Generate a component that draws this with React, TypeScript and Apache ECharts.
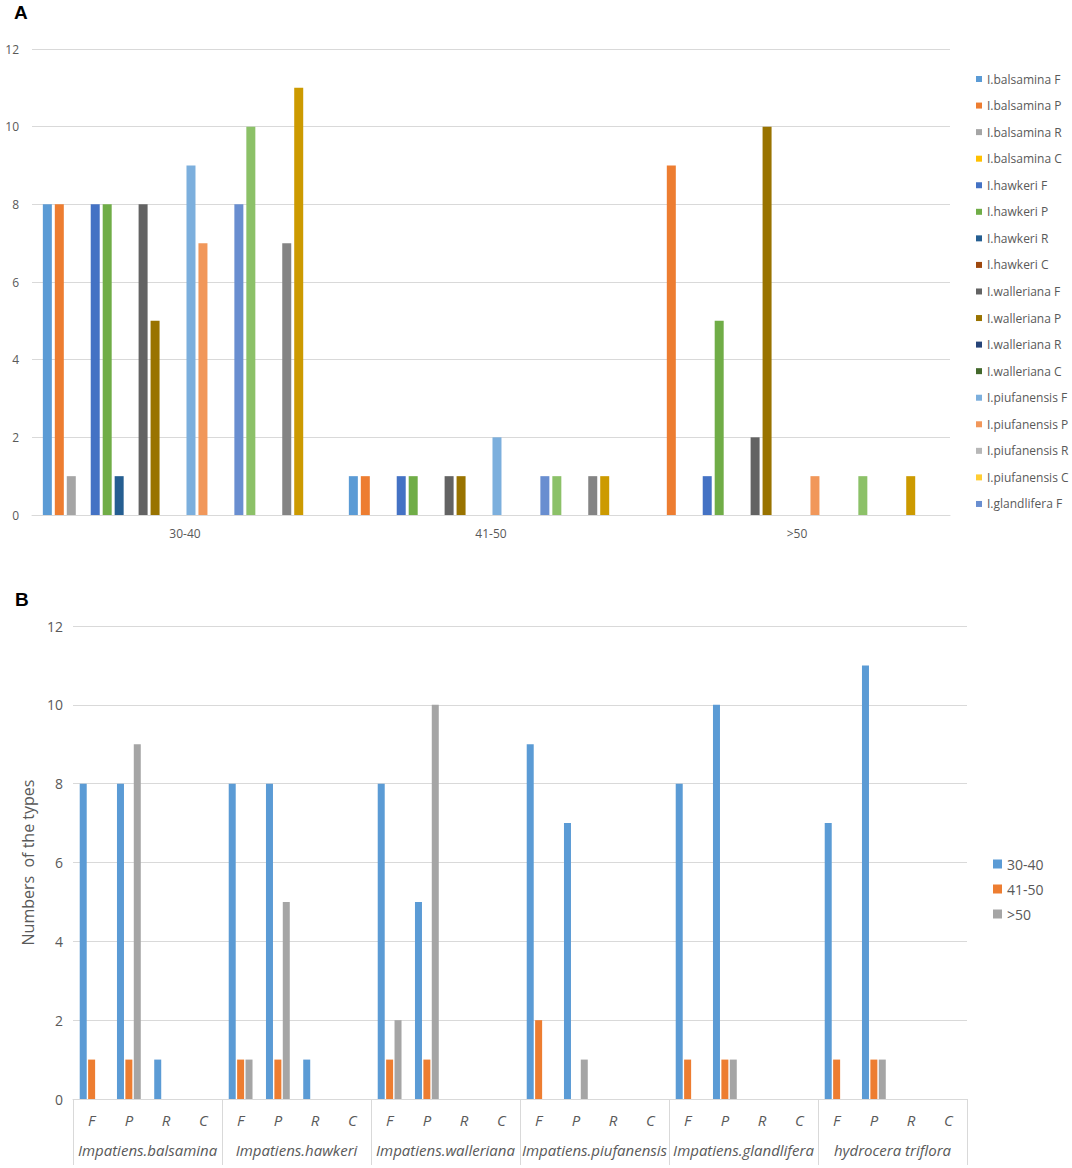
import React, { useEffect, useRef } from "react";
import * as echarts from "echarts";

// ---------- data ----------
const ageGroups = ["30-40", "41-50", ">50"];
const typeCodes = ["F", "P", "R", "C"];
const speciesFull = [
  "Impatiens.balsamina",
  "Impatiens.hawkeri",
  "Impatiens.walleriana",
  "Impatiens.piufanensis",
  "Impatiens.glandlifera",
  "hydrocera triflora",
];
const speciesShort = [
  "I.balsamina",
  "I.hawkeri",
  "I.walleriana",
  "I.piufanensis",
  "I.glandlifera",
  "H.triflora",
];
// counts per species x type (F,P,R,C for each species in order)
const counts3040 = [8, 8, 1, 0, 8, 8, 1, 0, 8, 5, 0, 0, 9, 7, 0, 0, 8, 10, 0, 0, 7, 11, 0, 0];
const counts4150 = [1, 1, 0, 0, 1, 1, 0, 0, 1, 1, 0, 0, 2, 0, 0, 0, 1, 1, 0, 0, 1, 1, 0, 0];
const countsOver50 = [0, 9, 0, 0, 1, 5, 0, 0, 2, 10, 0, 0, 0, 1, 0, 0, 0, 1, 0, 0, 0, 1, 0, 0];
const legendShownA = 17;

const paletteA = [
  "#5B9BD5", "#ED7D31", "#A5A5A5", "#FFC000", "#4472C4", "#70AD47",
  "#255E91", "#9E480E", "#636363", "#997300", "#264478", "#43682B",
  "#7CAFDD", "#F1975A", "#B7B7B7", "#FFCD33", "#698ED0", "#8CC168",
  "#327DC2", "#D26012", "#848484", "#CC9A00", "#3C64AE", "#61973A",
];
const paletteB = ["#5B9BD5", "#ED7D31", "#A5A5A5"];

const FONT = "'Open Sans', Lato, sans-serif";
const TXT = "#595959";
const GRID = "#D9D9D9";

export default function App() {
  const ref = useRef<HTMLDivElement>(null);

  useEffect(() => {
    if (!ref.current) return;
    const chart = echarts.init(ref.current, undefined, { renderer: "svg" });

    const namesA: string[] = [];
    speciesShort.forEach((s) => typeCodes.forEach((t) => namesA.push(`${s} ${t}`)));
    const byAge = [counts3040, counts4150, countsOver50];

    const seriesA = namesA.map((name, i) => ({
      type: "bar",
      name,
      xAxisIndex: 0,
      yAxisIndex: 0,
      data: byAge.map((arr) => arr[i]),
      barWidth: 9,
      barGap: "33%",
      itemStyle: { color: paletteA[i] },
    }));

    const catsB: string[] = [];
    speciesFull.forEach(() => typeCodes.forEach((t) => catsB.push(t)));

    const seriesB = ageGroups.map((g, k) => ({
      type: "bar",
      name: g,
      xAxisIndex: 1,
      yAxisIndex: 1,
      data: byAge[k],
      barWidth: 7,
      barGap: "20%",
      itemStyle: { color: paletteB[k] },
    }));

    const option: any = {
      animation: false,
      textStyle: { fontFamily: FONT },
      graphic: [
        {
          type: "text",
          left: 14,
          top: 3,
          style: { text: "A", font: "bold 19px 'Liberation Sans', Arial, sans-serif", fill: "#000" },
        },
        {
          type: "text",
          left: 15,
          top: 590,
          style: { text: "B", font: "bold 19px 'Liberation Sans', Arial, sans-serif", fill: "#000" },
        },
      ],
      legend: [
        {
          data: namesA.slice(0, legendShownA),
          orient: "vertical",
          left: 976,
          top: 72,
          padding: 0,
          itemWidth: 6,
          itemHeight: 6,
          itemGap: 12.56,
          icon: "rect",
          selectedMode: false,
          textStyle: { color: TXT, fontSize: 12, lineHeight: 14, fontFamily: FONT },
        },
        {
          data: ageGroups,
          orient: "vertical",
          left: 993,
          top: 855.5,
          padding: 0,
          itemWidth: 9,
          itemHeight: 9,
          itemGap: 8,
          icon: "rect",
          selectedMode: false,
          textStyle: { color: TXT, fontSize: 14, lineHeight: 17, fontFamily: FONT },
        },
      ],
      grid: [
        { left: 32, right: 122, top: 49, height: 466, containLabel: false },
        { left: 73, right: 105, top: 626, height: 473, containLabel: false },
      ],
      xAxis: [
        {
          type: "category",
          gridIndex: 0,
          data: ageGroups,
          axisLine: { show: true, lineStyle: { color: GRID } },
          axisTick: { show: false },
          axisLabel: { color: TXT, fontSize: 12, margin: 12, fontFamily: FONT },
        },
        {
          type: "category",
          gridIndex: 1,
          data: catsB,
          axisLine: { show: true, lineStyle: { color: GRID } },
          axisTick: { show: false },
          axisLabel: {
            color: TXT,
            fontSize: 15,
            fontStyle: "italic",
            margin: 13,
            interval: 0,
            fontFamily: FONT,
          },
        },
        {
          type: "category",
          gridIndex: 1,
          position: "bottom",
          data: speciesFull,
          axisLine: { show: false },
          axisTick: { show: true, length: 66, interval: 0, lineStyle: { color: GRID } },
          axisLabel: {
            color: TXT,
            fontSize: 15,
            fontStyle: "italic",
            margin: 43,
            interval: 0,
            fontFamily: FONT,
          },
        },
      ],
      yAxis: [
        {
          type: "value",
          gridIndex: 0,
          min: 0,
          max: 12,
          interval: 2,
          axisLine: { show: false },
          axisTick: { show: false },
          splitLine: { lineStyle: { color: GRID } },
          axisLabel: { color: TXT, fontSize: 12, margin: 13, fontFamily: FONT },
        },
        {
          type: "value",
          gridIndex: 1,
          min: 0,
          max: 12,
          interval: 2,
          name: "Numbers  of the types",
          nameLocation: "middle",
          nameGap: 37,
          nameTextStyle: { color: TXT, fontSize: 16, fontFamily: FONT },
          axisLine: { show: false },
          axisTick: { show: false },
          splitLine: { lineStyle: { color: GRID } },
          axisLabel: { color: TXT, fontSize: 14, margin: 10, fontFamily: FONT },
        },
      ],
      series: [...seriesA, ...seriesB],
    };

    chart.setOption(option);
    return () => chart.dispose();
  }, []);

  return (
    <div
      ref={ref}
      style={{ position: "absolute", left: 0, top: 0, width: 1072, height: 1168, background: "#fff" }}
    />
  );
}
